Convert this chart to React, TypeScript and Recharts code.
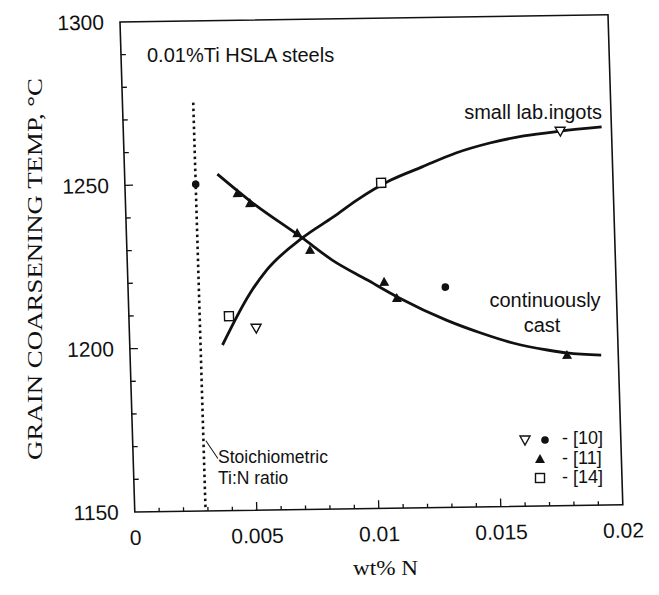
import React from 'react'
import {
  ComposedChart,
  Line,
  Scatter,
  XAxis,
  YAxis,
  ReferenceLine,
  ReferenceArea,
} from 'recharts'

const SANS = '"Liberation Sans", Arial, sans-serif'
const SERIF = '"Liberation Serif", "Times New Roman", serif'
const INK = '#111'

// fitted curves (wt% N vs grain coarsening temperature)
const ingotsN = [0.0038, 0.005, 0.0057, 0.0072, 0.0085, 0.0095, 0.0109, 0.0122, 0.0136, 0.015, 0.0164, 0.0179, 0.0196]
const ingotsT = [1200.7, 1216.5, 1223.4, 1233.1, 1239.4, 1244.5, 1250.4, 1254.3, 1258.4, 1261.3, 1263.3, 1264.6, 1265.7]

const castN = [0.0038, 0.0051, 0.0072, 0.0084, 0.0098, 0.0111, 0.013, 0.0144, 0.0157, 0.0171, 0.0179, 0.0193]
const castT = [1253.0, 1244.7, 1233.1, 1226.2, 1220.0, 1214.3, 1207.3, 1203.2, 1200.0, 1197.7, 1196.7, 1195.9]

// measured points by reference
const ref10OpenN = [0.0052, 0.0179]
const ref10OpenT = [1205.7, 1264.6]
const ref10SolidN = [0.0029, 0.013]
const ref10SolidT = [1250, 1217.4]
const ref11N = [0.0046, 0.0051, 0.007, 0.0075, 0.0105, 0.011, 0.0179]
const ref11T = [1247.1, 1244.0, 1234.6, 1229.4, 1219.3, 1214.3, 1196.1]
const ref14N = [0.0041, 0.0105]
const ref14T = [1209.5, 1249.6]

// stoichiometric Ti:N line
const stoichN = 0.0029
const stoichTop = 1275

const xTicks = [0, 0.005, 0.01, 0.015, 0.02]
const yTicks = [1150, 1200, 1250, 1300]
const xMinor = [0.001, 0.002, 0.003, 0.004, 0.006, 0.007, 0.008, 0.009, 0.011, 0.012, 0.013, 0.014, 0.016, 0.017, 0.018, 0.019]
const xMajor = [0.005, 0.01, 0.015]
const yMinor = [1160, 1170, 1180, 1190, 1210, 1220, 1230, 1240, 1260, 1270, 1280, 1290]
const yMajor = [1200, 1250]

const zip = (xs: number[], ys: number[]) => xs.map((x, i) => ({ x, y: ys[i] }))

type Pt = { cx?: number; cy?: number }

function UpTri({ cx = 0, cy = 0 }: Pt) {
  return <polygon points={`${cx},${cy - 5} ${cx + 5},${cy + 4} ${cx - 5},${cy + 4}`} fill={INK} />
}
function DownTri({ cx = 0, cy = 0 }: Pt) {
  return (
    <polygon
      points={`${cx - 5},${cy - 4} ${cx + 5},${cy - 4} ${cx},${cy + 5}`}
      fill="#fff"
      stroke={INK}
      strokeWidth={1.4}
    />
  )
}
function Dot({ cx = 0, cy = 0 }: Pt) {
  return <circle cx={cx} cy={cy} r={3.8} fill={INK} />
}
function Square({ cx = 0, cy = 0 }: Pt) {
  return <rect x={cx - 4.5} y={cy - 4.5} width={9} height={9} fill="#fff" stroke={INK} strokeWidth={1.4} />
}

const legendRows = [
  { marks: [DownTri, Dot], label: '- [10]' },
  { marks: [UpTri], label: '- [11]' },
  { marks: [Square], label: '- [14]' },
]

export default function App() {
  const tickLine = (a: { x: number; y: number }, b: { x: number; y: number }, key: string) => (
    <ReferenceLine key={key} segment={[a, b]} stroke={INK} strokeWidth={1.3} ifOverflow="visible" />
  )

  return (
    <div style={{ position: 'absolute', left: 0, top: 0, width: 659, height: 595, background: '#fff', overflow: 'hidden' }}>
      {/* the plot frame sits slightly tilted */}
      <div
        style={{
          position: 'absolute',
          left: 0,
          top: 0,
          transform: 'matrix(1, -0.0148, 0.0302, 1, 0, 0)',
          transformOrigin: '120px 22px',
        }}
      >
        <ComposedChart width={659} height={595} margin={{ top: 22, right: 51, bottom: 53, left: 0 }}>
          <XAxis
            dataKey="x"
            type="number"
            domain={[0, 0.02]}
            ticks={xTicks}
            tickFormatter={(v) => String(v)}
            tickLine={false}
            axisLine={false}
            tickMargin={12}
            tick={{ fontSize: 21, fill: INK, fontFamily: SANS }}
            height={30}
          />
          <YAxis
            type="number"
            domain={[1150, 1300]}
            ticks={yTicks}
            tickLine={false}
            axisLine={false}
            tickMargin={10}
            width={120}
            tick={{ fontSize: 21, fill: INK, fontFamily: SANS }}
          />
          <ReferenceArea x1={0} x2={0.02} y1={1150} y2={1300} fill="none" stroke={INK} strokeWidth={1.6} />

          {xMinor.map((v) => tickLine({ x: v, y: 1150 }, { x: v, y: 1151.2 }, `xm${v}`))}
          {xMajor.map((v) => tickLine({ x: v, y: 1150 }, { x: v, y: 1152.5 }, `xM${v}`))}
          {yMinor.map((v) => tickLine({ x: 0, y: v }, { x: 0.0002, y: v }, `ym${v}`))}
          {yMajor.map((v) => tickLine({ x: 0, y: v }, { x: 0.00033, y: v }, `yM${v}`))}

          <ReferenceLine
            segment={[{ x: stoichN, y: stoichTop }, { x: stoichN, y: 1150 }]}
            stroke={INK}
            strokeWidth={2.6}
            strokeDasharray="2.5 3.5"
          />
          <ReferenceLine
            segment={[{ x: 0.003, y: 1171.5 }, { x: 0.00347, y: 1166 }]}
            stroke={INK}
            strokeWidth={1}
          />

          <Line
            data={zip(ingotsN, ingotsT)}
            dataKey="y"
            type="monotone"
            stroke={INK}
            strokeWidth={2.8}
            dot={false}
            isAnimationActive={false}
          />
          <Line
            data={zip(castN, castT)}
            dataKey="y"
            type="monotone"
            stroke={INK}
            strokeWidth={2.8}
            dot={false}
            isAnimationActive={false}
          />

          <Scatter data={zip(ref11N, ref11T)} dataKey="y" shape={(p: Pt) => <UpTri {...p} />} isAnimationActive={false} />
          <Scatter data={zip(ref10OpenN, ref10OpenT)} dataKey="y" shape={(p: Pt) => <DownTri {...p} />} isAnimationActive={false} />
          <Scatter data={zip(ref10SolidN, ref10SolidT)} dataKey="y" shape={(p: Pt) => <Dot {...p} />} isAnimationActive={false} />
          <Scatter data={zip(ref14N, ref14T)} dataKey="y" shape={(p: Pt) => <Square {...p} />} isAnimationActive={false} />
        </ComposedChart>
      </div>

      <svg width={659} height={595} style={{ position: 'absolute', left: 0, top: 0, pointerEvents: 'none' }}>
        <g fontFamily={SANS} fill={INK}>
          <text x={147} y={62} fontSize={20}>0.01%Ti HSLA steels</text>
          <text x={602} y={119} fontSize={20} textAnchor="end">small lab.ingots</text>
          <text x={545} y={307} fontSize={20} textAnchor="middle">continuously</text>
          <text x={542} y={332} fontSize={20} textAnchor="middle">cast</text>
          <text x={218} y={463} fontSize={17.5}>Stoichiometric</text>
          <text x={218} y={484} fontSize={17.5}>Ti:N ratio</text>
        </g>

        {legendRows.map((row, i) => {
          const y = 440 + i * 19
          return (
            <g key={row.label}>
              {row.marks.map((Mark, j) => (
                <Mark key={j} cx={row.marks.length === 2 ? 525 + j * 20 : 540} cy={y} />
              ))}
              <text x={562} y={y + 4 + i * 0.5} fontSize={18} fontFamily={SANS} fill={INK}>
                {row.label}
              </text>
            </g>
          )
        })}

        <text
          x={42}
          y={269}
          transform="rotate(-90 42 269)"
          textAnchor="middle"
          fontFamily={SERIF}
          fontSize={21}
          textLength={382}
          lengthAdjust="spacingAndGlyphs"
          fill={INK}
        >
          GRAIN COARSENING TEMP, °C
        </text>
        <text
          x={385.5}
          y={575}
          textAnchor="middle"
          fontFamily={SERIF}
          fontSize={21}
          textLength={65}
          lengthAdjust="spacingAndGlyphs"
          fill={INK}
        >
          wt% N
        </text>
      </svg>
    </div>
  )
}
